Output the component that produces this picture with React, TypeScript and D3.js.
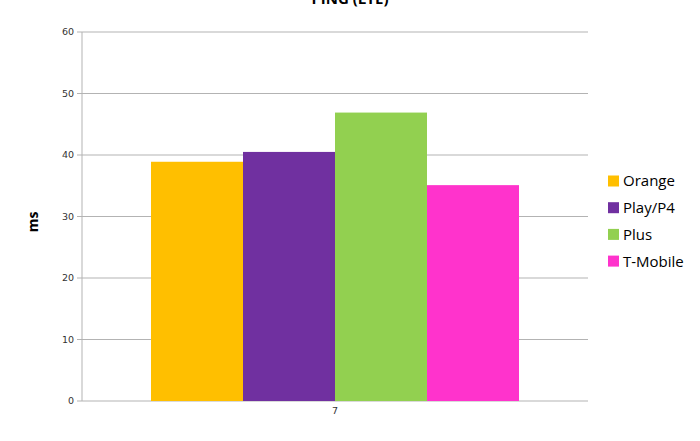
import React from "react";
import * as d3 from "d3";

const categories = ["7"];
const seriesNames = ["Orange", "Play/P4", "Plus", "T-Mobile"];
const seriesColors = ["#ffbf00", "#7030a0", "#92d050", "#ff33cc"];
const seriesValues = [[38.9], [40.5], [46.9], [35.1]];
const yTicks = [0, 10, 20, 30, 40, 50, 60];
const title = "PING (LTE)";
const yTitle = "ms";
const xTitle = "Dzień";

export default function App() {
  const W = 700, H = 441;
  const left = 82, right = 588, top = 32, bottom = 401;
  const x = d3.scaleBand().domain(categories).range([left, right]).paddingInner(0).paddingOuter(0.1875);
  const inner = d3.scaleBand().domain(seriesNames).range([0, x.bandwidth()]);
  const y = d3.scaleLinear().domain([0, 60]).range([bottom, top]);
  const font = "'DejaVu Sans', sans-serif";
  return (
    <svg width={W} height={H} style={{ position: "absolute", left: 0, top: 0 }}>
      <rect width={W} height={H} fill="#fff" />
      <text x={350} y={4} textAnchor="middle" fontFamily="'Open Sans', sans-serif" fontWeight="bold" fontSize={15} fill="#000">{title}</text>
      {yTicks.map((t) => (
        <g key={t}>
          <line x1={left - 5} x2={right} y1={y(t)} y2={y(t)} stroke="#b3b3b3" strokeWidth={1} />
          <text x={left - 8} y={y(t)} dy="0.35em" textAnchor="end" fontFamily={font} fontSize={9.5} fill="#333">{t}</text>
        </g>
      ))}
      <line x1={left} x2={left} y1={top} y2={bottom} stroke="#b3b3b3" strokeWidth={1} />
      {categories.map((c, ci) => (
        <g key={c}>
          {seriesNames.map((s, si) => (
            <rect key={s} x={(x(c) as number) + (inner(s) as number)} y={y(seriesValues[si][ci])}
              width={inner.bandwidth()} height={bottom - y(seriesValues[si][ci])} fill={seriesColors[si]} />
          ))}
          <text x={(x(c) as number) + x.bandwidth() / 2} y={414} textAnchor="middle" fontFamily={font} fontSize={9.5} fill="#333">{c}</text>
        </g>
      ))}
      <text transform={`translate(38,222) rotate(-90)`} textAnchor="middle" fontFamily="'Open Sans', sans-serif" fontWeight="bold" fontSize={14} fill="#000">{yTitle}</text>
      <text x={335} y={452} textAnchor="middle" fontFamily="'Open Sans', sans-serif" fontWeight="bold" fontSize={14} fill="#000">{xTitle}</text>
      {seriesNames.map((s, i) => (
        <g key={s} transform={`translate(608,${181 + i * 26.7})`}>
          <rect x={0} y={-5.5} width={11} height={11} fill={seriesColors[i]} />
          <text x={15} y={0} dy="0.36em" fontFamily="'Open Sans', sans-serif" fontSize={15} fill="#000">{s}</text>
        </g>
      ))}
    </svg>
  );
}
